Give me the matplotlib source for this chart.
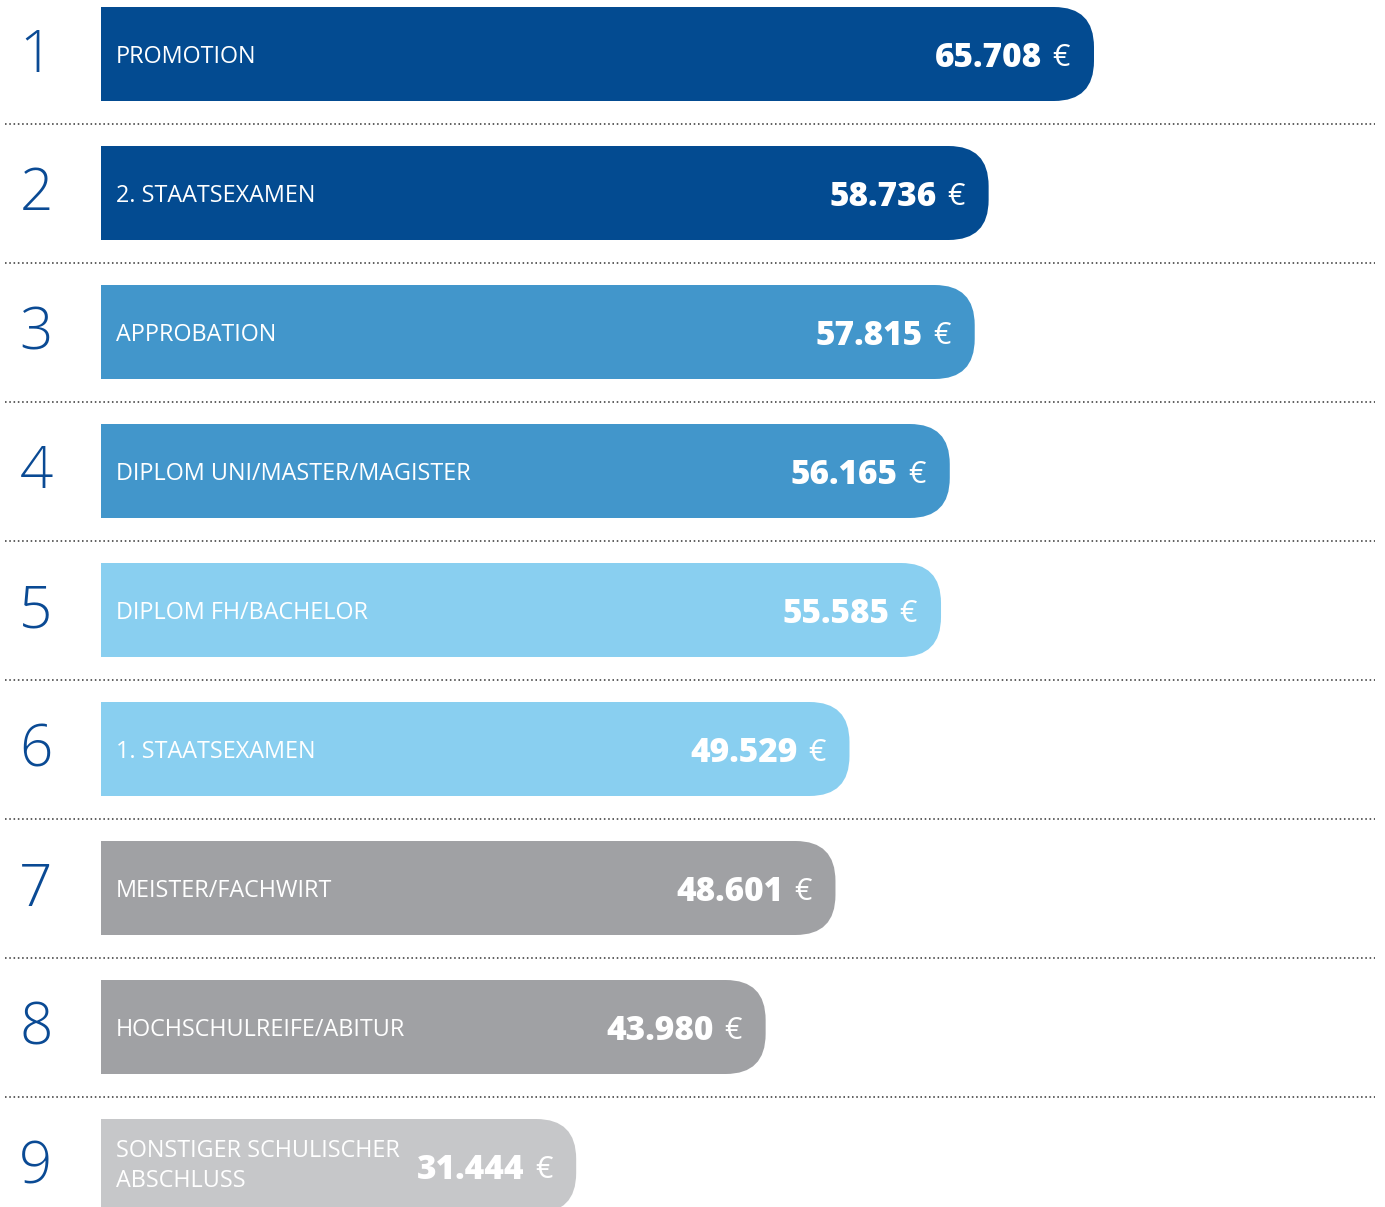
import matplotlib
matplotlib.use("Agg")
import matplotlib.pyplot as plt
from matplotlib.patches import FancyBboxPatch

plt.rcParams['font.family'] = ['Open Sans', 'DejaVu Sans']

# data
ranks = ['1', '2', '3', '4', '5', '6', '7', '8', '9']
labels = ['PROMOTION', '2. STAATSEXAMEN', 'APPROBATION',
          'DIPLOM UNI/MASTER/MAGISTER', 'DIPLOM FH/BACHELOR',
          '1. STAATSEXAMEN', 'MEISTER/FACHWIRT', 'HOCHSCHULREIFE/ABITUR',
          'SONSTIGER SCHULISCHER\nABSCHLUSS']
values = [65708, 58736, 57815, 56165, 55585, 49529, 48601, 43980, 31444]
value_labels = ['65.708', '58.736', '57.815', '56.165', '55.585',
                '49.529', '48.601', '43.980', '31.444']
colors = ['#034b91', '#034b91', '#4296cb', '#4296cb', '#89cff0',
          '#89cff0', '#a0a1a4', '#a0a1a4', '#c6c7c9']

W, H = 1385, 1207
fig = plt.figure(figsize=(W / 100, H / 100), dpi=100)
ax = fig.add_axes([0, 0, 1, 1])
ax.axis('off')

# pixel layout
x0_px = 101          # bar origin
full_px = 993        # width of biggest bar
row_px = 139
first_center = 54
bar_h = 94 / row_px
s = full_px / max(values)   # px per euro

ax.set_xlim(-x0_px / s, (W - x0_px) / s)
ax.set_ylim((H - first_center) / row_px, -first_center / row_px)

r_px = 40
r_x = r_px / s
r_y = r_px / row_px

for i, (v, c) in enumerate(zip(values, colors)):
    y = i
    ax.barh(y, v / 2, height=bar_h, left=0, color=c, linewidth=0)
    box = FancyBboxPatch((0, y - bar_h / 2), v, bar_h,
                         boxstyle="round,pad=0,rounding_size=%f" % r_x,
                         mutation_aspect=r_y / r_x,
                         facecolor=c, edgecolor='none')
    ax.add_patch(box)

    ax.text(15 / s, y + (0.02 if i < 8 else 0.0), labels[i], color='white',
            fontsize=16.8, va='center', ha='left', linespacing=1.3)

    ax.annotate('€', (v, y), xytext=(-24, -4), textcoords='offset pixels',
                color='white', fontsize=22, va='center', ha='right')
    ax.annotate(value_labels[i], (v, y), xytext=(-52, -4),
                textcoords='offset pixels', color='white', fontsize=24,
                fontweight='heavy', va='center', ha='right')

    ax.annotate(ranks[i], (0, y), xytext=(-65, -2), textcoords='offset pixels',
                color='#0a4a94', fontsize=42, fontweight='light',
                va='center', ha='center')

# dotted separators
for i in range(len(values) - 1):
    ax.plot([(5 - x0_px) / s, (1375 - x0_px) / s], [i + 0.5, i + 0.5],
            color='#5e5e5e', linewidth=1.4, linestyle=(0, (0.8, 1.4)),
            dash_capstyle='butt')

fig.savefig('out.png', dpi=100)
